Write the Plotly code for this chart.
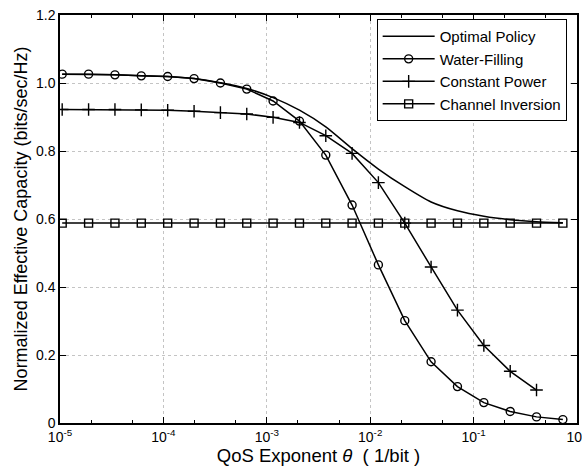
import plotly.graph_objects as go

# QoS exponent grid (1/bit)
theta = [1.05e-5, 1.89e-5, 3.40e-5, 6.11e-5, 1.10e-4, 1.98e-4, 3.56e-4, 6.40e-4,
         1.15e-3, 2.07e-3, 3.72e-3, 6.68e-3, 1.20e-2, 2.16e-2, 3.88e-2, 6.98e-2,
         0.1256, 0.226, 0.406, 0.730]

# Normalized effective capacity (bits/sec/Hz)
optimal_policy = [1.026, 1.026, 1.024, 1.021, 1.019, 1.013, 1.001, 0.984, 0.957, 0.920,
                  0.871, 0.807, 0.747, 0.695, 0.650, 0.624, 0.608, 0.598, 0.592, 0.589]
water_filling = [1.026, 1.026, 1.024, 1.021, 1.019, 1.013, 1.000, 0.982, 0.947, 0.888,
                 0.788, 0.641, 0.465, 0.301, 0.180, 0.107, 0.060, 0.034, 0.018, 0.010]
constant_power = [0.922, 0.922, 0.922, 0.921, 0.920, 0.917, 0.913, 0.909, 0.899, 0.884,
                  0.845, 0.793, 0.707, 0.588, 0.459, 0.332, 0.228, 0.152, 0.097]
channel_inversion = [0.588, 0.588, 0.588, 0.588, 0.588, 0.588, 0.588, 0.588, 0.588, 0.588,
                     0.588, 0.588, 0.588, 0.588, 0.588, 0.588, 0.588, 0.588, 0.588, 0.588]

x_tickvals = [1e-5, 1e-4, 1e-3, 1e-2, 1e-1, 1e0]
x_ticktext = ["10<sup>-5</sup>", "10<sup>-4</sup>", "10<sup>-3</sup>",
              "10<sup>-2</sup>", "10<sup>-1</sup>", "10<sup>0</sup>"]
y_tickvals = [0, 0.2, 0.4, 0.6, 0.8, 1.0, 1.2]
y_ticktext = ["0", "0.2", "0.4", "0.6", "0.8", "1.0", "1.2"]

FONT = "Liberation Sans, Arial, Helvetica, sans-serif"
LINE = dict(color="black", width=1.5)

fig = go.Figure()
fig.add_trace(go.Scatter(x=theta, y=optimal_policy, name="Optimal Policy", mode="lines",
                         line=dict(color="black", width=1.5, shape="spline", smoothing=0.6)))
fig.add_trace(go.Scatter(x=theta, y=water_filling, name="Water-Filling", mode="lines+markers",
                         line=LINE,
                         marker=dict(symbol="circle-open", size=8, color="black",
                                     line=dict(width=1.4, color="black"))))
fig.add_trace(go.Scatter(x=theta[:len(constant_power)], y=constant_power, name="Constant Power",
                         mode="lines+markers", line=LINE,
                         marker=dict(symbol="cross-thin-open", size=9, color="black",
                                     line=dict(width=1.4, color="black"))))
fig.add_trace(go.Scatter(x=theta, y=channel_inversion, name="Channel Inversion",
                         mode="lines+markers", line=LINE,
                         marker=dict(symbol="square-open", size=8, color="black",
                                     line=dict(width=1.4, color="black"))))

axis_common = dict(showline=True, linecolor="black", linewidth=1.5, mirror="ticks",
                   ticks="inside", ticklen=6, tickcolor="black", tickwidth=1,
                   showgrid=True, gridcolor="#c4c4c4", griddash="dot", gridwidth=1,
                   zeroline=False, ticklabeloverflow="allow",
                   tickfont=dict(family=FONT, size=14, color="black"))

fig.update_xaxes(type="log", range=[-5, 0], tickvals=x_tickvals, ticktext=x_ticktext,
                 minor=dict(ticks="inside", ticklen=3, tickcolor="black", showgrid=False),
                 title=dict(text="QoS Exponent <i>θ</i>  ( 1/bit )",
                            font=dict(family=FONT, size=18.5, color="black"), standoff=5),
                 **axis_common)
fig.update_yaxes(range=[0, 1.2], tickvals=y_tickvals, ticktext=y_ticktext,
                 title=dict(text="Normalized Effective Capacity (bits/sec/Hz)",
                            font=dict(family=FONT, size=18, color="black"), standoff=4),
                 **axis_common)

fig.update_layout(
    width=582, height=472,
    margin=dict(l=60, r=5, t=15, b=49, autoexpand=False),
    paper_bgcolor="white", plot_bgcolor="white",
    font=dict(family=FONT, color="black"),
    legend=dict(x=0.98, y=0.99, xanchor="right", yanchor="top",
                bgcolor="white", bordercolor="black", borderwidth=1,
                font=dict(family=FONT, size=15, color="black"),
                itemwidth=52),
    showlegend=True,
)

fig.write_html("out.html")
